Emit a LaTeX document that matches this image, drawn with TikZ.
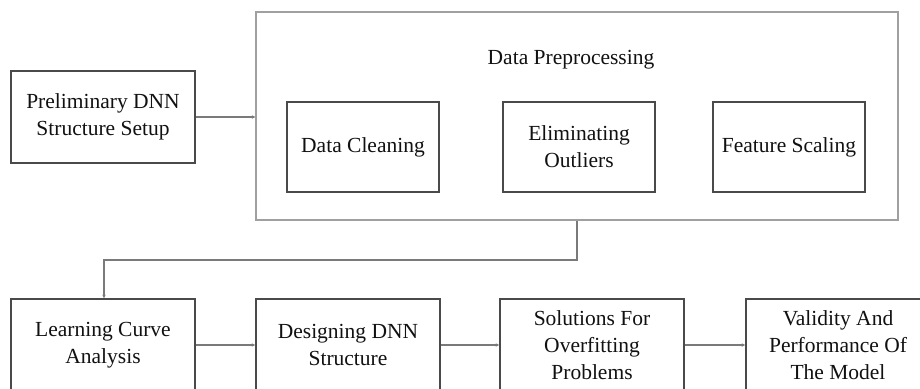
\documentclass[tikz,border=0pt]{standalone}
\usepackage{fontspec}
\setmainfont{Liberation Serif}
\usetikzlibrary{arrows.meta}
\definecolor{boxline}{HTML}{4A4A4A}
\definecolor{outerline}{HTML}{A0A0A0}
\definecolor{connline}{HTML}{7A7A7A}
\definecolor{txt}{HTML}{111111}
\tikzset{
  stepbox/.style={draw=boxline, line width=1.6pt, rectangle, inner sep=0pt,
    minimum width=184pt, minimum height=92pt, align=center, text=txt,
    font=\fontsize{21.5}{27}\selectfont},
  innerbox/.style={stepbox, minimum width=152pt, minimum height=90pt},
  outerbox/.style={draw=outerline, line width=1.4pt, rectangle, inner sep=0pt,
    minimum width=642pt, minimum height=208pt},
  conn/.style={draw=connline, line width=1.1pt, -{Stealth[length=3.5pt,width=3.5pt]}},
  lbl/.style={text=txt, font=\fontsize{21.5}{27}\selectfont, inner sep=0pt}
}
\begin{document}
\begin{tikzpicture}[x=1pt,y=-1pt]
\useasboundingbox (0,0) rectangle (920,388);
\clip (0,0) rectangle (920,388);
\fill[white] (0,0) rectangle (920,388);
% top row
\node[stepbox] (prelim) at (103,117) {Preliminary DNN\\Structure Setup};
\node[outerbox] (prep) at (577,116) {};
\node[lbl] (preptitle) at (571,60) {Data Preprocessing};
\node[innerbox] (clean) at (363,147) {Data Cleaning};
\node[innerbox] (outl) at (579,147) {Eliminating\\Outliers};
\node[innerbox] (scale) at (789,147) {Feature Scaling};
% bottom row
\node[stepbox] (learn) at (103,345) {Learning Curve\\Analysis};
\node[stepbox] (design) at (348,345) {Designing DNN\\Structure};
\node[stepbox] (sol) at (592,345) {Solutions For\\Overfitting\\Problems};
\node[stepbox] (valid) at (838,345) {Validity And\\Performance Of\\The Model};
% connectors
\draw[conn] (prelim.east) -- (prelim.east -| prep.west);
\coordinate (bend1) at (577,260);
\coordinate (bend2) at (104,260);
\draw[conn] (prep.south) -- (bend1) -- (bend2) -- (learn.north -| bend2);
\draw[conn] (learn.east) -- (design.west);
\draw[conn] (design.east) -- (sol.west);
\draw[conn] (sol.east) -- (valid.west);
\end{tikzpicture}
\end{document}
